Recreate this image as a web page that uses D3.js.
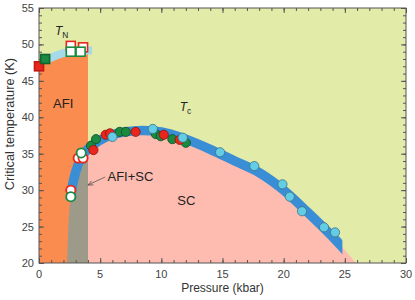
<!DOCTYPE html>
<html>
<head>
<meta charset="utf-8">
<script src="https://cdn.jsdelivr.net/npm/d3@7"></script>
<style>
  body { margin: 0; background: #fff; overflow: hidden; }
  svg { display: block; font-family: Arial, "Liberation Sans", sans-serif; }
</style>
</head>
<body>
<svg width="415" height="300"></svg>
<script>
// phase boundaries
const tnLineP = [0, 1, 2, 3, 4, 4.35];
const tnLineT = [47.2, 48.2, 48.8, 49.1, 49.15, 49.15];
const tcLineP = [2.3, 2.4, 2.6, 3.0, 3.6, 4.5, 5.5, 7, 8.5, 10, 12, 14, 16, 18, 20, 22, 24, 25, 25.9];
const tcLineT = [20, 25, 29, 32.5, 34.8, 36.3, 37.3, 38.0, 38.2, 38.0, 37.0, 35.6, 34.0, 32.4, 30.0, 26.9, 23.6, 21.8, 20];

// TN points (squares)
const tnRedFilledP = [0];
const tnRedFilledT = [47.0];
const tnGreenFilledP = [0.5];
const tnGreenFilledT = [48.0];
const tnRedOpenP = [2.6, 3.6];
const tnRedOpenT = [49.8, 49.6];
const tnGreenOpenP = [2.6, 3.4];
const tnGreenOpenT = [49.0, 49.0];

// Tc points (circles)
const tcRedOpenP = [2.6, 3.2, 3.6];
const tcRedOpenT = [30.0, 34.4, 34.4];
const tcGreenOpenP = [2.6, 3.45];
const tcGreenOpenT = [29.1, 35.1];
const tcGreenP = [4.25, 4.66, 6.6, 7.1, 9.55, 9.95, 10.9, 12.0];
const tcGreenT = [36.1, 37.0, 38.0, 38.0, 37.7, 37.4, 37.0, 36.5];
const tcRedP = [4.45, 5.45, 5.8, 7.9, 10.2, 11.5];
const tcRedT = [35.5, 37.6, 37.8, 38.0, 37.6, 36.9];
const tcCyanP = [6.0, 9.3, 11.75, 14.8, 17.6, 19.9, 20.5, 21.5, 23.3, 24.2];
const tcCyanT = [37.3, 38.4, 37.2, 35.2, 33.3, 30.8, 29.1, 27.1, 24.9, 24.2];

const xTicks = [0, 5, 10, 15, 20, 25, 30];
const yTicks = [20, 25, 30, 35, 40, 45, 50, 55];

const svg = d3.select("svg");
const margin = {top: 8, right: 9, bottom: 37, left: 39};
const innerWidth = 415 - margin.left - margin.right;
const innerHeight = 300 - margin.top - margin.bottom;

const x = d3.scaleLinear().domain([0, 30]).range([0, innerWidth]);
const y = d3.scaleLinear().domain([20, 55]).range([innerHeight, 0]);

const g = svg.append("g").attr("transform", "translate(" + margin.left + "," + margin.top + ")");

const defs = svg.append("defs");
const zip = (a, b) => a.map((v, i) => [v, b[i]]);
const tnLine = zip(tnLineP, tnLineT);
const tcLine = zip(tcLineP, tcLineT);

// clip paths
defs.append("clipPath").attr("id", "plot")
    .append("rect").attr("width", innerWidth).attr("height", innerHeight);
defs.append("clipPath").attr("id", "leftOf4")
    .append("rect").attr("width", x(4)).attr("height", innerHeight);
defs.append("clipPath").attr("id", "rightOf4")
    .append("rect").attr("x", x(4)).attr("width", innerWidth - x(4)).attr("height", innerHeight);
defs.append("clipPath").attr("id", "tnBand")
    .append("rect").attr("x", x(0.7)).attr("width", x(4.35) - x(0.7)).attr("height", innerHeight);
const tcClip = defs.append("clipPath").attr("id", "tcBand");
tcClip.append("rect").attr("x", 0).attr("y", 0).attr("width", x(8)).attr("height", y(28.6));
tcClip.append("rect").attr("x", x(8)).attr("y", 0).attr("width", x(24.8) - x(8)).attr("height", innerHeight);

const plot = g.append("g").attr("clip-path", "url(#plot)");

// background
plot.append("rect").attr("width", innerWidth).attr("height", innerHeight).attr("fill", "#e3eba9");

// AFI region
const area = d3.area().x(d => x(d[0])).y0(y(20)).y1(d => y(d[1])).curve(d3.curveMonotoneX);
plot.append("path").datum(tnLine).attr("d", area).attr("fill", "#fb8c4f")
    .attr("clip-path", "url(#leftOf4)");

// AFI+SC and SC regions
plot.append("g").attr("clip-path", "url(#leftOf4)")
  .append("path").datum(tcLine).attr("d", area).attr("fill", "#9d9a8a");
plot.append("g").attr("clip-path", "url(#rightOf4)")
  .append("path").datum(tcLine).attr("d", area).attr("fill", "#fdbcaf");

// bands
const line = d3.line().x(d => x(d[0])).y(d => y(d[1])).curve(d3.curveMonotoneX);
plot.append("g").attr("clip-path", "url(#tnBand)")
  .append("path").datum(tnLine).attr("d", line)
    .attr("fill", "none").attr("stroke", "#a6dae8").attr("stroke-width", 8);
plot.append("g").attr("clip-path", "url(#tcBand)")
  .append("path").datum(tcLine).attr("d", line)
    .attr("fill", "none").attr("stroke", "#3a8ed6").attr("stroke-width", 9.5);

// axes frame and ticks
function ticks(axis, pos, vals, len) {
  g.append("g").attr("transform", pos)
    .call(axis.tickValues(vals).tickSize(len).tickFormat(""))
    .call(s => s.select(".domain").remove())
    .call(s => s.selectAll("line").attr("stroke", "#555"));
}
const minorX = d3.range(0, 31, 1), minorY = d3.range(20, 56, 1);
ticks(d3.axisBottom(x), "translate(0," + innerHeight + ")", minorX, -3);
ticks(d3.axisBottom(x), "translate(0," + innerHeight + ")", xTicks, -5);
ticks(d3.axisTop(x), "translate(0,0)", minorX, -3);
ticks(d3.axisTop(x), "translate(0,0)", xTicks, -5);
ticks(d3.axisLeft(y), "translate(0,0)", minorY, -3);
ticks(d3.axisLeft(y), "translate(0,0)", yTicks, -5);
ticks(d3.axisRight(y), "translate(" + innerWidth + ",0)", minorY, -3);
ticks(d3.axisRight(y), "translate(" + innerWidth + ",0)", yTicks, -5);

g.append("rect").attr("width", innerWidth).attr("height", innerHeight)
    .attr("fill", "none").attr("stroke", "#555").attr("stroke-width", 1);

g.selectAll(".xl").data(xTicks).enter().append("text")
    .attr("x", d => x(d)).attr("y", innerHeight + 15)
    .attr("text-anchor", "middle").attr("font-size", 11).attr("fill", "#444")
    .text(d => d);
g.selectAll(".yl").data(yTicks).enter().append("text")
    .attr("x", -5).attr("y", d => y(d) + 4)
    .attr("text-anchor", "end").attr("font-size", 11).attr("fill", "#444")
    .text(d => d);

svg.append("text").attr("x", margin.left + innerWidth / 2).attr("y", 292)
    .attr("text-anchor", "middle").attr("font-size", 12).attr("fill", "#333")
    .text("Pressure (kbar)");
svg.append("text").attr("transform", "translate(14,124) rotate(-90)")
    .attr("text-anchor", "middle").attr("font-size", 12.8).attr("fill", "#333")
    .text("Critical temperature (K)");

// markers
function squares(P, T, fill, stroke) {
  g.selectAll(null).data(zip(P, T)).enter().append("rect")
    .attr("x", d => x(d[0]) - 4.5).attr("y", d => y(d[1]) - 4.5)
    .attr("width", 9).attr("height", 9)
    .attr("fill", fill).attr("stroke", stroke).attr("stroke-width", 1.6);
}
function circles(P, T, fill, stroke, sw) {
  g.selectAll(null).data(zip(P, T)).enter().append("circle")
    .attr("cx", d => x(d[0])).attr("cy", d => y(d[1])).attr("r", 4.6)
    .attr("fill", fill).attr("stroke", stroke).attr("stroke-width", sw);
}
squares(tnRedFilledP, tnRedFilledT, "#e8261c", "#c01a12");
squares(tnGreenFilledP, tnGreenFilledT, "#1a8a40", "#10642c");
squares(tnRedOpenP, tnRedOpenT, "#fff", "#e8261c");
squares(tnGreenOpenP, tnGreenOpenT, "#fff", "#1a8a40");

circles(tcRedOpenP, tcRedOpenT, "#fff", "#e8261c", 1.8);
circles(tcGreenOpenP, tcGreenOpenT, "#fff", "#1a8a40", 1.8);
circles(tcGreenP, tcGreenT, "#1a8a40", "#0f4f24", 0.8);
circles(tcRedP, tcRedT, "#e8261c", "#8f1410", 0.8);
circles(tcCyanP, tcCyanT, "#62cde4", "#3d7480", 0.8);

// labels
function label(px, tk, txt, size, sub) {
  const t = g.append("text").attr("x", x(px)).attr("y", y(tk))
      .attr("font-size", size).attr("fill", "#222");
  if (sub) {
    t.append("tspan").attr("font-style", "italic").text(txt);
    t.append("tspan").attr("font-size", size * 0.7).attr("dy", 3).text(sub);
  } else {
    t.text(txt);
  }
}
label(1.3, 51.3, "T", 12, "N");
label(11.5, 40.9, "T", 12, "c");
label(1.15, 41.3, "AFI", 13);
label(5.6, 31.2, "AFI+SC", 13);
label(11.3, 27.9, "SC", 13);

// arrow
const ax0 = [5.4, 31.8], ax1 = [4.0, 30.7];
const ang = Math.atan2(y(ax1[1]) - y(ax0[1]), x(ax1[0]) - x(ax0[0]));
g.append("line").attr("x1", x(ax0[0])).attr("y1", y(ax0[1]))
    .attr("x2", x(ax1[0])).attr("y2", y(ax1[1]))
    .attr("stroke", "#555").attr("stroke-width", 0.8);
g.append("path")
    .attr("d", "M0,0 L-5,-2.2 M0,0 L-5,2.2")
    .attr("transform", "translate(" + x(ax1[0]) + "," + y(ax1[1]) + ") rotate(" + ang * 180 / Math.PI + ")")
    .attr("stroke", "#555").attr("stroke-width", 0.8).attr("fill", "none");
</script>
</body>
</html>
